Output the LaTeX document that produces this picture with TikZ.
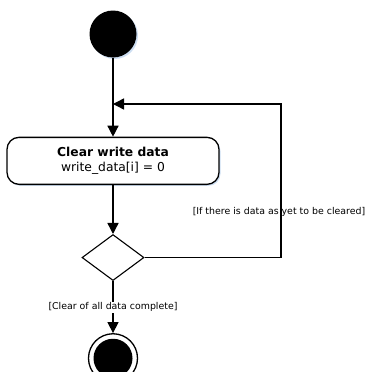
\documentclass[tikz,border=0pt]{standalone}
\usepackage{fontspec}
\setmainfont{DejaVu Sans}
\usetikzlibrary{arrows.meta,shapes.geometric,positioning,shadows}
\definecolor{umlshadow}{RGB}{205,222,242}

\begin{document}
\begin{tikzpicture}[
    x=1pt, y=-1pt,
    flow/.style={line width=1.4pt, -{Triangle[length=11pt,width=11pt]}},
    startnode/.style={circle, fill=black, minimum size=47pt, inner sep=0pt, drop shadow={fill=umlshadow, opacity=1, shadow xshift=1.5pt, shadow yshift=-1.5pt}},
    endnode/.style={circle, draw=black, line width=1.3pt, fill=white, minimum size=49pt, inner sep=0pt, path picture={\fill[black] (path picture bounding box.center) circle (19.5pt);}},
    action/.style={rectangle, draw=black, line width=1.3pt, fill=white, rounded corners=12pt, minimum width=212pt, minimum height=47pt, align=center, font=\fontsize{12.3}{15}\selectfont, drop shadow={fill=umlshadow, opacity=1, shadow xshift=1.5pt, shadow yshift=-1.5pt}},
    decision/.style={diamond, draw=black, line width=1.1pt, fill=white, minimum width=62pt, minimum height=46pt, inner sep=0pt},
    guard/.style={font=\fontsize{9.4}{11}\selectfont, inner sep=1pt}
]
    \useasboundingbox (0,0) rectangle (373,372);

    \node[startnode] (start) at (113,34) {};
    \node[action, below=79pt of start] (clear) {\textbf{Clear write data}\\write\_data[i] = 0};
    \node[decision, below=49pt of clear] (check) {};
    \node[endnode, below=52pt of check] (stop) {};

    \coordinate (join) at (113,104);
    \coordinate (corner) at (281,104);

    \draw[flow] (start) -- (clear);
    \draw[flow] (clear) -- (check);
    \draw[flow] (check) -- node[guard, fill=white] (donelbl) {[Clear of all data complete]} (stop);
    \draw[flow] (check.east) -| (corner) -- (join);
    \node[guard] (retrylbl) at (279,212) {[If there is data as yet to be cleared]};
\end{tikzpicture}
\end{document}
